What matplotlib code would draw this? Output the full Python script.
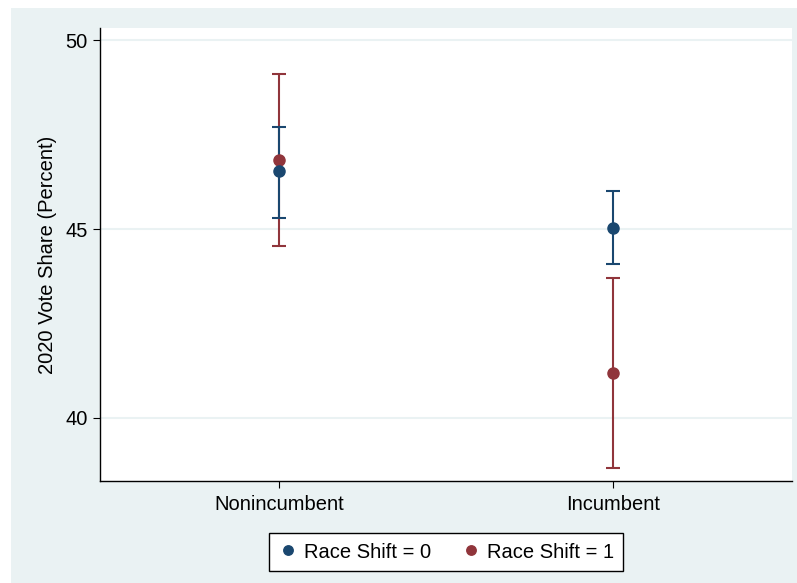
import matplotlib.pyplot as plt
import numpy as np
from matplotlib.patches import Rectangle

plt.rcParams['font.family'] = ['Liberation Sans', 'DejaVu Sans']

categories = ['Nonincumbent', 'Incumbent']
shift0_mean = [46.53, 45.04]
shift0_low = [45.31, 44.08]
shift0_high = [47.72, 46.02]
shift1_mean = [46.84, 41.19]
shift1_low = [44.56, 38.67]
shift1_high = [49.12, 43.71]

blue = '#1a476f'
red = '#90353b'
bg = '#eaf2f3'

fig = plt.figure(figsize=(7.97, 5.83), dpi=100, facecolor='white')
fig.patches.append(Rectangle((11 / 797, 0), 1, 1 - 8 / 583, transform=fig.transFigure,
                             facecolor=bg, edgecolor='none', zorder=-10))
ax = fig.add_axes([100 / 797, 1 - 481 / 583, 692 / 797, 453 / 583])
ax.set_facecolor('white')

x = np.arange(1, len(categories) + 1)


def draw(mean, low, high, color, label):
    mean = np.array(mean)
    yerr = [mean - np.array(low), np.array(high) - mean]
    ax.errorbar(x, mean, yerr=yerr, fmt='none', ecolor=color, elinewidth=1.5,
                capsize=5, capthick=1.5, zorder=3)
    ax.plot(x, mean, 'o', color=color, markersize=8, label=label, zorder=4,
            linestyle='none')


draw(shift1_mean, shift1_low, shift1_high, red, 'Race Shift = 1')
draw(shift0_mean, shift0_low, shift0_high, blue, 'Race Shift = 0')

ax.set_xlim(0.463, 2.537)
ax.set_ylim(38.33, 50.33)
ax.set_yticks([40, 45, 50])
ax.set_xticks(x)
ax.set_xticklabels(categories)
ax.yaxis.grid(True, color=bg, linewidth=1.5, zorder=0)
ax.set_axisbelow(True)
for s in ['top', 'right']:
    ax.spines[s].set_visible(False)
for s in ['left', 'bottom']:
    ax.spines[s].set_linewidth(1.0)
    ax.spines[s].set_color('black')
ax.tick_params(axis='y', direction='out', length=5, labelsize=14.5, pad=4)
ax.tick_params(axis='x', direction='out', length=5, labelsize=14.5, pad=5)
ax.set_ylabel('2020 Vote Share (Percent)', fontsize=14.5, labelpad=6)

handles, labels = ax.get_legend_handles_labels()
leg = fig.legend(handles[::-1], labels[::-1], loc='center',
                 bbox_to_anchor=(446 / 797, 1 - 552 / 583), ncol=2, fontsize=14.5,
                 frameon=True, fancybox=False, edgecolor='black', framealpha=1,
                 handletextpad=0.3, columnspacing=1.5, handlelength=1.0,
                 borderpad=0.45, markerscale=0.85)
leg.get_frame().set_linewidth(1.0)

fig.savefig('out.png', dpi=100, facecolor=fig.get_facecolor())
